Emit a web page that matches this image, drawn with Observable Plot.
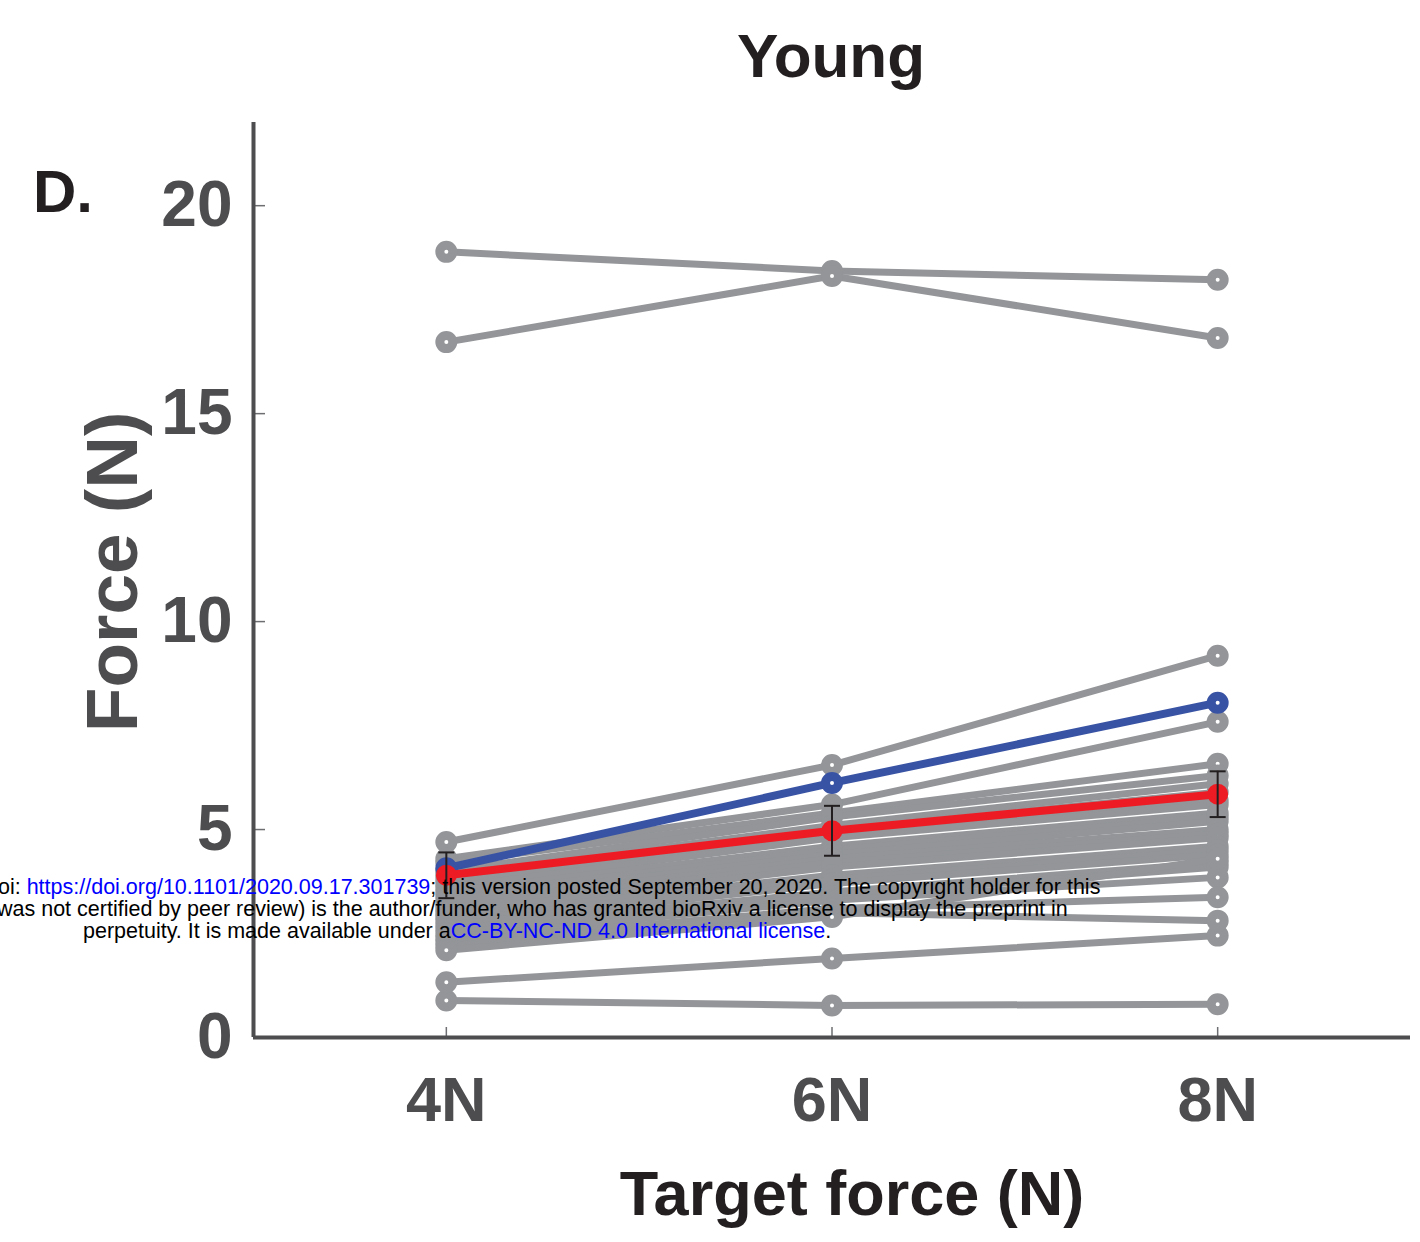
<!DOCTYPE html>
<html>
<head>
<meta charset="utf-8">
<script src="https://cdn.jsdelivr.net/npm/d3@7"></script>
<script src="https://cdn.jsdelivr.net/npm/@observablehq/plot@0.6"></script>
<style>
  html, body { margin: 0; padding: 0; background: #fff; }
  #wrap { position: relative; width: 1420px; height: 1242px; overflow: hidden; font-family: "Liberation Sans", Arial, sans-serif; }
  .lbl { position: absolute; line-height: 1; white-space: nowrap; font-weight: bold; }
  .wm { position: absolute; line-height: 1; white-space: nowrap; font-size: 21.5px; color: #000; font-family: "Liberation Sans", Arial, sans-serif; }
  .wm a { color: #0000ff; text-decoration: none; }
  #chart { position: absolute; left: 0; top: 0; }
</style>
</head>
<body>
<div id="wrap">
  <div id="chart"></div>
  <div class="lbl" style="left:831px;top:25px;font-size:62px;color:#231f20;transform:translateX(-50%);">Young</div>
  <div class="lbl" style="left:33px;top:162px;font-size:60px;color:#231f20;">D.</div>
  <div class="lbl" style="left:852px;top:1162px;font-size:63px;color:#231f20;transform:translateX(-50%);">Target force (N)</div>
  <div class="lbl" style="left:111px;top:572px;font-size:73px;color:#4d4d4f;transform:translate(-50%,-50%) rotate(-90deg);">Force (N)</div>
  <div class="wm" style="left:-14px;top:877px;">doi: <a>https://doi.org/10.1101/2020.09.17.301739</a>; this version posted September 20, 2020. The copyright holder for this</div>
  <div class="wm" style="left:-3px;top:899px;">was not certified by peer review) is the author/funder, who has granted bioRxiv a license to display the preprint in</div>
  <div class="wm" style="left:83px;top:921px;">perpetuity. It is made available under a<a>CC-BY-NC-ND 4.0 International license</a>.</div>
</div>
<script>
// Target forces (x categories)
const targetLabels = ["4N", "6N", "8N"];
const targetValues = [4, 6, 8];
const yTicks = [0, 5, 10, 15, 20];

// Individual participants (gray), force produced at each target
const force4N = [18.89, 16.72, 0.89, 1.33, 4.70, 4.30, 4.20, 4.00, 3.90, 3.80, 3.70, 3.60, 3.50, 3.40, 3.30, 3.20, 3.10, 3.00, 2.90, 2.80, 2.70, 2.60, 2.50, 2.40, 2.30, 2.20, 2.10];
const force6N = [18.43, 18.31, 0.77, 1.90, 6.55, 5.60, 5.40, 5.30, 5.10, 5.00, 4.90, 4.80, 4.60, 4.50, 4.40, 4.30, 4.20, 4.10, 3.90, 3.80, 3.70, 3.50, 3.40, 3.30, 3.10, 3.00, 2.90];
const force8N = [18.22, 16.82, 0.80, 2.45, 9.18, 7.59, 6.58, 6.30, 6.10, 5.90, 5.70, 5.60, 5.40, 5.30, 5.20, 5.00, 4.90, 4.80, 4.60, 4.50, 4.40, 4.20, 4.10, 3.85, 3.37, 2.81, 4.30];

// Highlighted participant (blue) and group mean (red) with error
const blueForce = [4.07, 6.12, 8.05];
const meanForce = [3.90, 4.97, 5.85];
const meanError = [0.55, 0.60, 0.55];

const gray = "#939598", blue = "#3953a4", red = "#ed1c24", axisCol = "#4d4d4f";

const grayRows = [];
force4N.forEach((_, i) => {
  [force4N[i], force6N[i], force8N[i]].forEach((v, j) => grayRows.push({id: i, x: targetValues[j], y: v}));
});
const blueRows = blueForce.map((v, j) => ({x: targetValues[j], y: v}));
const meanRows = meanForce.map((v, j) => ({x: targetValues[j], y: v, lo: v - meanError[j], hi: v + meanError[j]}));

const capSymbol = { draw(ctx) { ctx.moveTo(-8, 0); ctx.lineTo(8, 0); } };

const chart = Plot.plot({
  width: 1420,
  height: 1242,
  marginTop: 122,
  marginBottom: 205,
  marginLeft: 253,
  marginRight: 10,
  style: { fontFamily: "Liberation Sans, Arial, sans-serif", background: "transparent", overflow: "visible" },
  x: { domain: [3, 9] },
  y: { domain: [0, 22] },
  marks: [
    Plot.axisY({ ticks: yTicks, tickSize: -12, tickPadding: 33, stroke: "#6d6e71", strokeWidth: 1.5, label: null, tickFormat: d => String(d) }),
    Plot.axisX({ ticks: targetValues, tickSize: -10, tickPadding: 49, stroke: "#6d6e71", strokeWidth: 1.5, label: null, tickFormat: (d) => targetLabels[targetValues.indexOf(d)] }),
    Plot.ruleX([3], { stroke: axisCol, strokeWidth: 4 }),
    Plot.ruleY([0], { stroke: axisCol, strokeWidth: 4 }),
    Plot.line(grayRows, { x: "x", y: "y", z: "id", stroke: gray, strokeWidth: 7 }),
    Plot.dot(grayRows, { x: "x", y: "y", r: 6.5, stroke: gray, strokeWidth: 9, fill: "white" }),
    Plot.line(blueRows, { x: "x", y: "y", stroke: blue, strokeWidth: 8 }),
    Plot.dot(blueRows, { x: "x", y: "y", r: 6.5, stroke: blue, strokeWidth: 9, fill: "white" }),
    Plot.line(meanRows, { x: "x", y: "y", stroke: red, strokeWidth: 8 }),
    Plot.dot(meanRows, { x: "x", y: "y", r: 8, fill: red, stroke: red, strokeWidth: 5 }),
    Plot.ruleX(meanRows, { x: "x", y1: "lo", y2: "hi", stroke: "#231f20", strokeWidth: 2 }),
    Plot.dot(meanRows, { x: "x", y: "lo", symbol: capSymbol, stroke: "#231f20", strokeWidth: 2, fill: "none" }),
    Plot.dot(meanRows, { x: "x", y: "hi", symbol: capSymbol, stroke: "#231f20", strokeWidth: 2, fill: "none" })
  ]
});

const svg = d3.select(chart);
svg.selectAll('[aria-label="y-axis tick label"] text, [aria-label="y-axis tick label"]')
  .attr("font-size", 64).attr("font-weight", "bold").attr("fill", axisCol);
svg.selectAll('[aria-label="x-axis tick label"] text, [aria-label="x-axis tick label"]')
  .attr("font-size", 63).attr("font-weight", "bold").attr("fill", axisCol);
document.getElementById("chart").appendChild(chart);
</script>
</body>
</html>
